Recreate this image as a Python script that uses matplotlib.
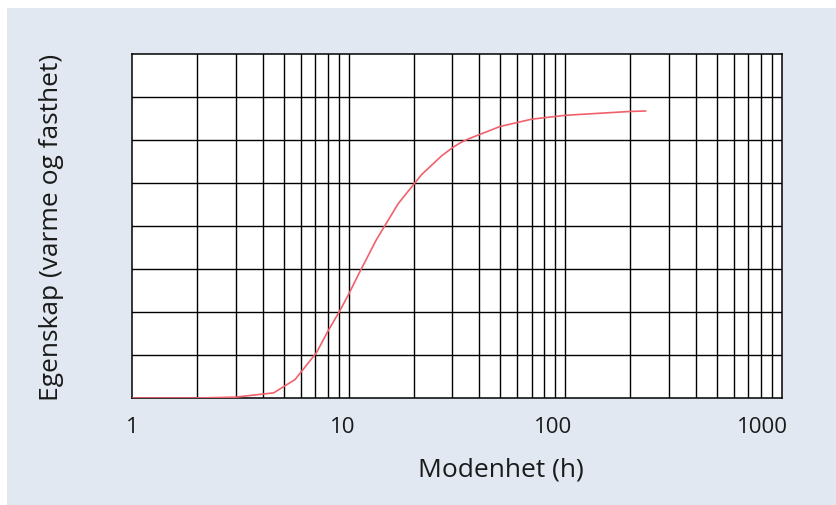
import numpy as np
import matplotlib
matplotlib.use("Agg")
import matplotlib.pyplot as plt
from matplotlib.patches import Rectangle

plt.rcParams['font.family'] = ['Open Sans', 'DejaVu Sans']

# Maturity (hours) and property development (grid units, 0-8)
maturity_h = [1, 2, 3, 4.5, 5.65, 7.1, 8.0, 9.0, 10.0, 11.1, 13.4, 16.9,
              20, 21.7, 26.9, 30.4, 33, 35.7, 50, 70, 100, 200, 235]
property_val = [0, 0, 0.02, 0.12, 0.43, 1.06, 1.55, 1.99, 2.42, 2.88, 3.68, 4.52,
                4.98, 5.2, 5.64, 5.84, 5.95, 6.03, 6.32, 6.49, 6.58, 6.67, 6.68]

tick_labels = ["1", "10", "100", "1000"]
tick_label_pos = [1, 9.4, 88, 818]

x_label = "Modenhet (h)"
y_label = "Egenskap (varme og fasthet)"

W, H = 837, 506
fig = plt.figure(figsize=(W / 100, H / 100), dpi=100)
fig.patch.set_facecolor("white")
fig.add_artist(Rectangle((7 / W, 0), (W - 7) / W, (H - 9) / H,
                         transform=fig.transFigure, facecolor="#e1e8f1",
                         edgecolor="none", zorder=0))

ax = fig.add_axes([132.3 / W, (H - 399) / H, 649.4 / W, 343.7 / H])
ax.set_facecolor("white")
ax.set_xscale("log")
ax.set_xlim(1, 1000)
ax.set_ylim(0, 8)

# Grid: every integer step within each decade, 8 horizontal bands
minor = [m * 10 ** d for d in range(3) for m in range(2, 10)]
for xv in minor + [10, 100]:
    ax.axvline(xv, color="black", lw=1.0, zorder=1)
for yv in range(1, 8):
    ax.axhline(yv, color="black", lw=1.0, zorder=1)
for s in ax.spines.values():
    s.set_color("black")
    s.set_linewidth(1.1)

ax.plot(maturity_h, property_val, color="#f0616c", lw=1.2, zorder=3)

ax.set_xticks(tick_label_pos)
ax.set_xticklabels(tick_labels)
ax.xaxis.set_minor_locator(matplotlib.ticker.NullLocator())
ax.tick_params(axis="x", length=0, pad=13, labelsize=16, labelcolor="#1a1a1a")
ax.set_yticks([])

ax.set_xlabel(x_label, fontsize=19, color="#1a1a1a", va="center")
ax.xaxis.set_label_coords(0.568, -0.207)
ax.set_ylabel(y_label, fontsize=19, color="#1a1a1a", va="center")
ax.yaxis.set_label_coords(-0.124, 0.5)

fig.savefig("out.png", dpi=100)
